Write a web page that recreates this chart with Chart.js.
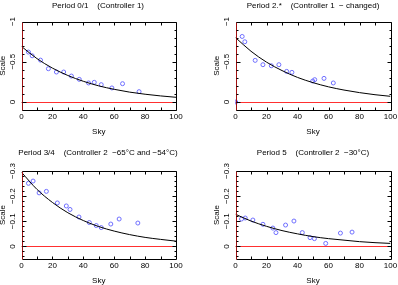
<!DOCTYPE html>
<html>
<head>
<meta charset="utf-8">
<script src="https://cdn.jsdelivr.net/npm/chart.js@4"></script>
<style>
html,body{margin:0;padding:0;background:#fff;}
#wrap{position:relative;width:398px;height:285px;}
canvas{position:absolute;left:0;top:0;}
</style>
</head>
<body>
<div id="wrap">
<canvas id="c1" width="398" height="285"></canvas>
<canvas id="c2" width="398" height="285"></canvas>
<canvas id="c3" width="398" height="285"></canvas>
<canvas id="c4" width="398" height="285"></canvas>
</div>
<script>
// ---- data ----
const xTickLabels = [0, 20, 40, 60, 80, 100];
const curveX = [0, 10, 20, 30, 40, 50, 60, 70, 80, 90, 100];

const titles = [
  "Period 0/1    (Controller 1)",
  "Period 2.*    (Controller 1  \u2212 changed)",
  "Period 3/4    (Controller 2  \u221265\u00b0C and \u221254\u00b0C)",
  "Period 5    (Controller 2  \u221230\u00b0C)"
];

const yTickLabelsTop = [-1, -0.5, 0];
const yTickLabelsBottom = [-0.3, -0.2, -0.1, 0];

const p1SkyX = [4.5, 6.9, 12.3, 17.4, 22.6, 27.3, 32.3, 37.4, 43.4, 47.1, 51.6, 58.5, 65.4, 76.1];
const p1Scale = [-0.62, -0.574, -0.52, -0.413, -0.372, -0.372, -0.322, -0.281, -0.236, -0.244, -0.215, -0.174, -0.227, -0.128];
const p1Curve = [-0.69, -0.539, -0.421, -0.329, -0.257, -0.200, -0.157, -0.122, -0.096, -0.075, -0.058];

const p2SkyX = [4.3, 6.0, 12.7, 17.7, 23.1, 28.0, 33.0, 36.4, 49.8, 51.1, 57.1, 63.1];
const p2Scale = [-0.814, -0.748, -0.517, -0.463, -0.45, -0.463, -0.38, -0.368, -0.26, -0.277, -0.293, -0.236];
const p2Origin = [{x: 0, y: 0}];
const p2Curve = [-0.80, -0.63, -0.495, -0.39, -0.305, -0.24, -0.188, -0.148, -0.116, -0.09, -0.07];

const p3SkyX = [4.5, 7.5, 11.4, 16.1, 23.2, 29.0, 31.4, 37.2, 43.9, 48.4, 51.6, 57.8, 63.2, 75.3];
const p3Scale = [-0.251, -0.26, -0.213, -0.219, -0.173, -0.161, -0.147, -0.117, -0.095, -0.083, -0.075, -0.089, -0.109, -0.093];
const p3Curve = [-0.295, -0.227, -0.175, -0.134, -0.103, -0.079, -0.061, -0.047, -0.036, -0.028, -0.021];

const p4SkyX = [3.9, 6.3, 11.2, 17.7, 24.1, 26.1, 32.3, 37.7, 43.1, 48.1, 50.9, 58.2, 67.7, 75.2];
const p4Scale = [-0.109, -0.113, -0.105, -0.088, -0.073, -0.055, -0.085, -0.101, -0.055, -0.035, -0.031, -0.012, -0.053, -0.057];
const p4Curve = [-0.128, -0.101, -0.080, -0.063, -0.050, -0.039, -0.031, -0.025, -0.019, -0.015, -0.012];

// ---- helpers ----
const FONT = "8px 'Liberation Sans', Arial, sans-serif";
const zip = (xs, ys) => xs.map((x, i) => ({x: x, y: ys[i]}));
const fmt = v => v === 0 ? "0" : (v < 0 ? "\u2212" + String(Math.abs(v)) : String(v));

function panelPlugin(p) {
  return {
    id: 'panel' + p.id,
    beforeDatasetsDraw(chart) {
      const ctx = chart.ctx, a = chart.chartArea, ys = chart.scales.y;
      const y0 = Math.round(ys.getPixelForValue(0)) + 0.5;
      ctx.save();
      ctx.strokeStyle = '#ff3030';
      ctx.lineWidth = 1;
      ctx.beginPath();
      ctx.moveTo(a.left, y0);
      ctx.lineTo(a.right, y0);
      ctx.stroke();
      ctx.restore();
    },
    afterDraw(chart) {
      const ctx = chart.ctx, a = chart.chartArea;
      const xs = chart.scales.x, ys = chart.scales.y;
      const L = Math.round(a.left) + 0.5, R = Math.round(a.right) + 0.5;
      const T = Math.round(a.top) + 0.5, B = Math.round(a.bottom) + 0.5;
      ctx.save();
      ctx.lineWidth = 1;
      // frame
      ctx.strokeStyle = '#000';
      ctx.beginPath();
      ctx.moveTo(L, T); ctx.lineTo(R, T); ctx.lineTo(R, B); ctx.lineTo(L, B);
      ctx.stroke();
      ctx.strokeStyle = '#a01010';
      ctx.beginPath();
      ctx.moveTo(L, T); ctx.lineTo(L, B);
      ctx.stroke();
      // x ticks
      ctx.strokeStyle = '#000';
      ctx.beginPath();
      for (let v = 10; v < 100; v += 10) {
        const px = Math.round(xs.getPixelForValue(v)) + 0.5;
        ctx.moveTo(px, B); ctx.lineTo(px, B - 3);
        ctx.moveTo(px, T); ctx.lineTo(px, T + 3);
      }
      ctx.stroke();
      // y ticks
      ctx.beginPath();
      const n = Math.round((p.yMaxTick - p.yMinTick) / p.minor);
      for (let i = 0; i <= n; i++) {
        const v = p.yMinTick + i * p.minor;
        const py = Math.round(ys.getPixelForValue(v)) + 0.5;
        const major = Math.abs(v / p.major - Math.round(v / p.major)) < 1e-6;
        const len = major ? 4 : 2;
        ctx.moveTo(L, py); ctx.lineTo(L + len, py);
        ctx.moveTo(R, py); ctx.lineTo(R - len, py);
      }
      ctx.stroke();
      // x labels
      ctx.fillStyle = '#000';
      ctx.font = FONT;
      ctx.textAlign = 'center';
      ctx.textBaseline = 'middle';
      xTickLabels.forEach(v => {
        ctx.fillText(String(v), xs.getPixelForValue(v), a.bottom + 7);
      });
      ctx.fillText('Sky', (a.left + a.right) / 2, a.bottom + 21.5);
      // title
      ctx.fillText(p.title, p.titleX, p.titleY);
      // y labels rotated
      p.yLabels.forEach(v => {
        ctx.save();
        ctx.translate(a.left - 8.5, ys.getPixelForValue(v));
        ctx.rotate(-Math.PI / 2);
        ctx.fillText(fmt(v), 0, 0);
        ctx.restore();
      });
      ctx.save();
      ctx.translate(a.left - 18.5, (a.top + a.bottom) / 2);
      ctx.rotate(-Math.PI / 2);
      ctx.fillText('Scale', 0, 0);
      ctx.restore();
      ctx.restore();
    }
  };
}

function makePanel(p) {
  const datasets = [
    {
      type: 'line',
      data: zip(curveX, p.curve),
      borderColor: '#000',
      borderWidth: 1,
      pointRadius: 0,
      fill: false,
      tension: 0.4,
      cubicInterpolationMode: 'monotone'
    },
    {
      type: 'scatter',
      data: zip(p.sx, p.sy),
      showLine: false,
      pointStyle: 'circle',
      pointRadius: 2,
      borderColor: '#6e6eff',
      backgroundColor: 'rgba(0,0,0,0)',
      borderWidth: 1
    }
  ];
  if (p.extra) {
    datasets.push({
      type: 'scatter',
      data: p.extra,
      pointStyle: 'circle',
      pointRadius: 2,
      borderColor: '#3a3aff',
      backgroundColor: '#5a5aff',
      borderWidth: 1
    });
  }
  new Chart(document.getElementById(p.canvas), {
    type: 'scatter',
    data: {datasets: datasets},
    options: {
      responsive: false,
      animation: false,
      events: [],
      layout: {padding: {left: p.area[0], top: p.area[1], right: 398 - p.area[2], bottom: 285 - p.area[3]}},
      plugins: {legend: {display: false}, tooltip: {enabled: false}, title: {display: false}},
      scales: {
        x: {type: 'linear', min: 0, max: 100, display: false},
        y: {type: 'linear', min: p.yMin, max: p.yMax, reverse: true, display: false}
      }
    },
    plugins: [panelPlugin(p)]
  });
}

makePanel({id: 1, canvas: 'c1', area: [21.5, 21.5, 176, 110], yMin: -1, yMax: 0.1,
  yMinTick: -1, yMaxTick: 0.1, minor: 0.1, major: 0.5, yLabels: yTickLabelsTop,
  sx: p1SkyX, sy: p1Scale, curve: p1Curve, title: titles[0], titleX: 98, titleY: 5.5});
makePanel({id: 2, canvas: 'c2', area: [235.5, 21.5, 390.5, 110], yMin: -1, yMax: 0.1,
  yMinTick: -1, yMaxTick: 0.1, minor: 0.1, major: 0.5, yLabels: yTickLabelsTop,
  sx: p2SkyX, sy: p2Scale, extra: p2Origin, curve: p2Curve, title: titles[1], titleX: 313, titleY: 5.5});
makePanel({id: 3, canvas: 'c3', area: [21.5, 171, 176, 259], yMin: -0.3, yMax: 0.05,
  yMinTick: -0.3, yMaxTick: 0.04, minor: 0.02, major: 0.1, yLabels: yTickLabelsBottom,
  sx: p3SkyX, sy: p3Scale, curve: p3Curve, title: titles[2], titleX: 98, titleY: 152.5});
makePanel({id: 4, canvas: 'c4', area: [235.5, 171, 390.5, 259], yMin: -0.3, yMax: 0.05,
  yMinTick: -0.3, yMaxTick: 0.04, minor: 0.02, major: 0.1, yLabels: yTickLabelsBottom,
  sx: p4SkyX, sy: p4Scale, curve: p4Curve, title: titles[3], titleX: 313, titleY: 152.5});
</script>
</body>
</html>
